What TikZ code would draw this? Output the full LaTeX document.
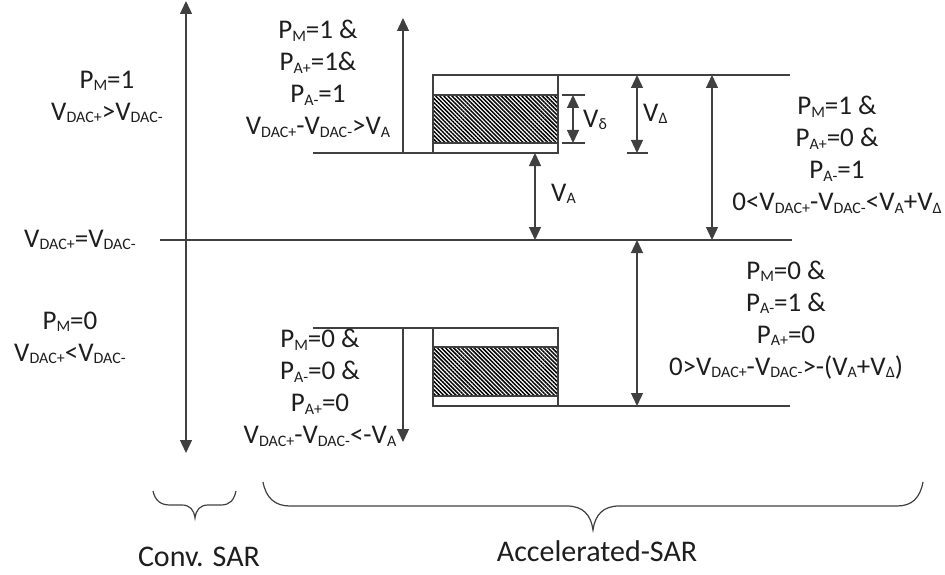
\documentclass[tikz,border=0pt]{standalone}
\usepackage{fontspec}
\setmainfont{Carlito}
\usetikzlibrary{arrows.meta,patterns.meta}
\definecolor{lncol}{RGB}{64,64,64}
\definecolor{txtcol}{RGB}{30,30,30}
\newcommand\sbs[1]{\raisebox{-2.5pt}{\fontsize{16}{16}\selectfont #1}}
\begin{document}
\begin{tikzpicture}[x=1pt,y=-1pt,
  ln/.style={draw=lncol, line width=1.3pt},
  arr/.style={ln, -{Triangle[length=13pt,width=12pt]}},
  darr/.style={ln, {Triangle[length=13pt,width=12pt]}-{Triangle[length=13pt,width=12pt]}},
  lbl/.style={align=center, font=\fontsize{27}{32}\selectfont, text=txtcol, inner sep=0pt},
  biglbl/.style={font=\fontsize{30}{36}\selectfont, text=txtcol, inner sep=0pt},
  hatch/.style={draw=lncol, line width=1.3pt, pattern={Lines[angle=-45,distance=2.9pt,line width=1.5pt]}},
  brace/.style={draw=lncol, line width=1.2pt}
]
\useasboundingbox (0,0) rectangle (945,575);
% coordinates
\coordinate (axT) at (186,1);
\coordinate (axB) at (186,453);
\coordinate (midL) at (160,240);
\coordinate (midR) at (792,240);
% top block
\coordinate (topL) at (433,75);
\coordinate (topR) at (790,75);
\coordinate (lowL) at (313,153);
\coordinate (lowR) at (558,153);
\coordinate (upS) at (403,153);
\coordinate (upE) at (403,18);
\coordinate (dsT) at (573,95);
\coordinate (dsB) at (573,143);
\coordinate (DT) at (637,75);
\coordinate (DB) at (637,153);
\coordinate (vaT) at (535,153);
\coordinate (vaB) at (535,240);
\coordinate (bigT) at (712,75);
\coordinate (bigB) at (712,240);
% bottom block
\coordinate (btopL) at (313,328);
\coordinate (btopR) at (558,328);
\coordinate (bbotL) at (433,406);
\coordinate (bbotR) at (790,406);
\coordinate (dnS) at (403,328);
\coordinate (dnE) at (403,442);
\coordinate (b2T) at (637,240);
\coordinate (b2B) at (637,406);

% axis and middle line
\draw[darr] (axB) -- (axT);
\draw[ln] (midL) -- (midR);

% top block
\draw[ln] (topL) -- (topR);
\draw[ln] (433,75) rectangle (558,153);
\draw[hatch] (433,95) rectangle (558,143);
\draw[ln] (lowL) -- (lowR);
\draw[arr] (upS) -- (upE);
\draw[ln] (562,95) -- (585,95);
\draw[ln] (562,143) -- (585,143);
\draw[darr] (dsT) -- (dsB);
\draw[ln] (627,153) -- (648,153);
\draw[darr] (DT) -- (DB);
\draw[darr] (vaT) -- (vaB);
\draw[darr] (bigT) -- (bigB);

% bottom block
\draw[ln] (btopL) -- (btopR);
\draw[ln] (433,328) rectangle (558,406);
\draw[hatch] (433,347) rectangle (558,396);
\draw[ln] (bbotL) -- (bbotR);
\draw[arr] (dnS) -- (dnE);
\draw[darr] (b2T) -- (b2B);

% small labels
\node[lbl, anchor=west] (ldelta) at (583,120) {V\sbs{δ}};
\node[lbl, anchor=west] (lDelta) at (643,114) {V\sbs{Δ}};
\node[lbl, anchor=west] (lVA) at (551,194) {V\sbs{A}};

% text blocks
\node[lbl] (tl) at (107,97) {P\sbs{M}=1\\V\sbs{DAC+}>V\sbs{DAC-}};
\node[lbl] (ml) at (80,240) {V\sbs{DAC+}=V\sbs{DAC-}};
\node[lbl] (bl) at (70,338) {P\sbs{M}=0\\V\sbs{DAC+}<V\sbs{DAC-}};
\node[lbl] (tm) at (318,79) {P\sbs{M}=1 \&\\P\sbs{A+}=1\&\\P\sbs{A-}=1\\V\sbs{DAC+}-V\sbs{DAC-}>V\sbs{A}};
\node[lbl] (bm) at (320,388) {P\sbs{M}=0 \&\\P\sbs{A-}=0 \&\\P\sbs{A+}=0\\V\sbs{DAC+}-V\sbs{DAC-}<-V\sbs{A}};
\node[lbl] (tr) at (837,155) {P\sbs{M}=1 \&\\P\sbs{A+}=0 \&\\P\sbs{A-}=1\\0<V\sbs{DAC+}-V\sbs{DAC-}<V\sbs{A}+V\sbs{Δ}};
\node[lbl] (br) at (786,320) {P\sbs{M}=0 \&\\P\sbs{A-}=1 \&\\P\sbs{A+}=0\\0>V\sbs{DAC+}-V\sbs{DAC-}>-(V\sbs{A}+V\sbs{Δ})};

% braces
\draw[brace] (153,491) .. controls (155,500) and (160,505) .. (170,505) -- (182,505)
  .. controls (190,505) and (194,510) .. (195,518)
  .. controls (196,510) and (200,505) .. (208,505) -- (221,505)
  .. controls (230,505) and (234,500) .. (236,491);
\draw[brace] (263,482) .. controls (266,498) and (275,506) .. (290,506) -- (567,506)
  .. controls (583,506) and (591,515) .. (593,530)
  .. controls (595,515) and (603,506) .. (619,506) -- (897,506)
  .. controls (912,506) and (920,498) .. (923,482);
\node[biglbl] (conv) at (199,557) {Conv. SAR};
\node[biglbl] (acc) at (597,551) {Accelerated-SAR};
\end{tikzpicture}
\end{document}
